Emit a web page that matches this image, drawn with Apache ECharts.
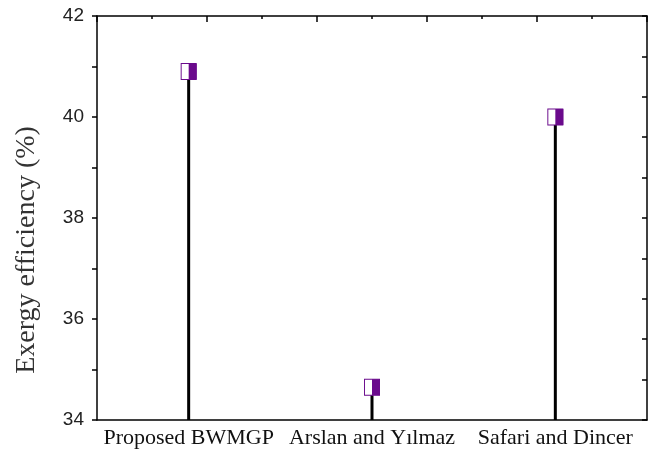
<!DOCTYPE html>
<html>
<head>
<meta charset="utf-8">
<script src="https://cdn.jsdelivr.net/npm/echarts@6/dist/echarts.min.js"></script>
<style>
  html, body { margin: 0; padding: 0; background: #fff; }
  #chart { width: 652px; height: 457px; }
</style>
</head>
<body>
<div id="chart"></div>
<script>
// data
const categories = ['Proposed BWMGP', 'Arslan and Y\u0131lmaz', 'Safari and Dincer']
const efficiency = [40.9, 34.65, 40.0]
const yTicks = [34, 36, 38, 40, 42]

const purple = '#6a0a8c'
const serif = '"Liberation Serif", "DejaVu Serif", serif'
const sans = '"Liberation Sans", Arial, sans-serif'

const chart = echarts.init(document.getElementById('chart'))

const option = {
  animation: false,
  grid: { left: 97, right: 5, top: 16, bottom: 37 },
  // y title sits a bit below the plot middle in the original
  graphic: [{
    type: 'text',
    x: 27,
    y: 250,
    rotation: Math.PI / 2,
    style: {
      text: 'Exergy efficiency (%)',
      fill: '#333',
      font: '28px ' + serif,
      textAlign: 'center',
      textVerticalAlign: 'middle'
    }
  }],
  xAxis: [
    {
      type: 'category',
      data: categories,
      position: 'bottom',
      axisLine: { lineStyle: { color: '#000', width: 1.5 } },
      axisTick: { alignWithLabel: true, length: 5, lineStyle: { color: '#000', width: 2 } },
      axisLabel: { interval: 0, hideOverlap: false, color: '#111', fontFamily: serif, fontSize: 22, margin: 7 }
    },
    {
      // ticks at category boundaries
      type: 'category',
      data: categories,
      position: 'bottom',
      axisLine: { show: false },
      axisTick: { length: 4, lineStyle: { color: '#000', width: 1.5 } },
      axisLabel: { show: false }
    },
    {
      // plain top frame with inward ticks
      type: 'value',
      position: 'top',
      min: 0,
      max: 1,
      interval: 0.2,
      axisLine: { show: true, lineStyle: { color: '#000', width: 1.5 } },
      axisTick: { show: true, inside: true, length: 6, lineStyle: { color: '#000', width: 1.5 } },
      minorTick: { show: true, splitNumber: 2, length: 3, lineStyle: { color: '#000', width: 1.5 } },
      axisLabel: { show: false },
      splitLine: { show: false }
    }
  ],
  yAxis: [
    {
      type: 'value',
      min: yTicks[0],
      max: yTicks[yTicks.length - 1],
      interval: 2,
      axisLine: { show: true, lineStyle: { color: '#000', width: 1.5 } },
      axisTick: { show: true, length: 5, lineStyle: { color: '#000', width: 1.5 } },
      minorTick: { show: true, splitNumber: 2, length: 5, lineStyle: { color: '#000', width: 1.5 } },
      axisLabel: { color: '#222', fontFamily: sans, fontSize: 19, margin: 13 },
      splitLine: { show: false }
    },
    {
      // right frame, inward ticks
      type: 'value',
      position: 'right',
      min: 0,
      max: 10,
      interval: 1,
      axisLine: { show: true, lineStyle: { color: '#000', width: 1.5 } },
      axisTick: { show: true, inside: true, length: 5, lineStyle: { color: '#000', width: 1.5 } },
      axisLabel: { show: false },
      splitLine: { show: false }
    }
  ],
  series: [
    {
      type: 'bar',
      data: efficiency,
      barWidth: 3,
      itemStyle: { color: '#000' },
      z: 2
    },
    {
      type: 'scatter',
      data: efficiency,
      symbol: 'rect',
      symbolSize: [15, 16],
      itemStyle: { color: '#fff', borderColor: purple, borderWidth: 1, opacity: 1 },
      z: 3
    },
    {
      type: 'scatter',
      data: efficiency,
      symbol: 'rect',
      symbolSize: [8, 16],
      symbolOffset: [4, 0],
      itemStyle: { color: purple, opacity: 1 },
      z: 4
    }
  ]
}

chart.setOption(option)
</script>
</body>
</html>
